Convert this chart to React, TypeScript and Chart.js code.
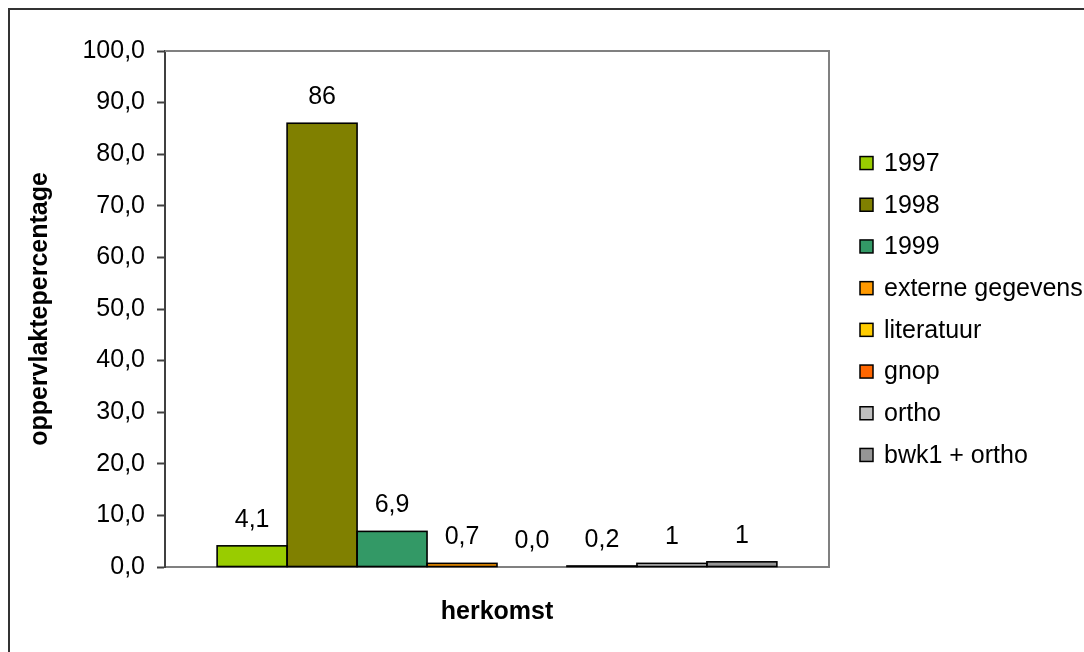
import { useEffect, useRef } from "react";
import { Chart, registerables } from "chart.js";

Chart.register(...registerables);

const categories = [""];
const seriesNames = ["1997", "1998", "1999", "externe gegevens", "literatuur", "gnop", "ortho", "bwk1 + ortho"];
const seriesValues = [4.1, 86, 6.9, 0.7, 0.0, 0.2, 0.7, 1.0];
const valueLabels = ["4,1", "86", "6,9", "0,7", "0,0", "0,2", "1", "1"];
const seriesColors = ["#99CC00", "#808000", "#339966", "#FF9900", "#FFCC00", "#FF6600", "#C0C0C0", "#969696"];
const yMin = 0;
const yMax = 100;
const yStep = 10;
const yTitle = "oppervlaktepercentage";
const xTitle = "herkomst";

const FONT = "Arial, 'Liberation Sans', sans-serif";
const FS = 25;

const decorPlugin = {
  id: "decor",
  beforeDraw(chart: any) {
    const { ctx, width, height } = chart;
    ctx.save();
    ctx.fillStyle = "#fff";
    ctx.fillRect(0, 0, width, height);
    // outer chart frame (top + left visible)
    ctx.strokeStyle = "#333";
    ctx.lineWidth = 2;
    ctx.beginPath();
    ctx.moveTo(9, height);
    ctx.lineTo(9, 9);
    ctx.lineTo(width, 9);
    ctx.stroke();
    ctx.restore();
  },
  afterDatasetsDraw(chart: any) {
    const { ctx, chartArea } = chart;
    ctx.save();
    // plot frame (top + right)
    ctx.strokeStyle = "#808080";
    ctx.lineWidth = 2;
    ctx.beginPath();
    ctx.moveTo(chartArea.left, chartArea.top);
    ctx.lineTo(chartArea.right, chartArea.top);
    ctx.lineTo(chartArea.right, chartArea.bottom);
    ctx.stroke();

    // bar outlines (centered on edges, like the original)
    ctx.strokeStyle = "#000";
    ctx.lineWidth = 1.6;
    chart.data.datasets.forEach((_ds: any, i: number) => {
      const meta = chart.getDatasetMeta(i);
      meta.data.forEach((bar: any) => {
        const { x, y, base, width } = bar.getProps(["x", "y", "base", "width"], true);
        if (Math.abs(base - y) < 0.01) return;
        ctx.strokeRect(x - width / 2, Math.min(y, base), width, Math.abs(base - y));
      });
    });

    // data labels
    ctx.font = `${FS}px ${FONT}`;
    ctx.fillStyle = "#000";
    ctx.textAlign = "center";
    ctx.textBaseline = "alphabetic";
    chart.data.datasets.forEach((_ds: any, i: number) => {
      const meta = chart.getDatasetMeta(i);
      meta.data.forEach((bar: any) => {
        ctx.fillText(valueLabels[i], bar.x, bar.y - 19);
      });
    });

    // legend
    const n = seriesNames.length;
    const spacing = 41.7;
    const cy = (chartArea.top + chartArea.bottom) / 2;
    const y0 = cy - (spacing * (n - 1)) / 2;
    const boxX = chartArea.right + 31;
    const box = 13;
    ctx.textAlign = "left";
    ctx.textBaseline = "middle";
    for (let i = 0; i < n; i++) {
      const y = y0 + i * spacing;
      ctx.fillStyle = seriesColors[i];
      ctx.fillRect(boxX, y - box / 2, box, box);
      ctx.strokeStyle = "#000";
      ctx.lineWidth = 1.5;
      ctx.strokeRect(boxX, y - box / 2, box, box);
      ctx.fillStyle = "#000";
      ctx.fillText(seriesNames[i], boxX + 24, y + 1);
    }
    ctx.restore();
  },
};

export default function App() {
  const canvasRef = useRef<HTMLCanvasElement | null>(null);

  useEffect(() => {
    document.documentElement.style.overflow = "hidden";
    document.body.style.overflow = "hidden";
    if (!canvasRef.current) return;
    const chart = new Chart(canvasRef.current, {
      type: "bar",
      data: {
        labels: categories,
        datasets: seriesNames.map((name, i) => ({
          label: name,
          data: [seriesValues[i]],
          backgroundColor: seriesColors[i],
          borderWidth: 0,
          categoryPercentage: 0.843,
          barPercentage: 1.0,
        })),
      },
      options: {
        animation: false,
        responsive: true,
        maintainAspectRatio: false,
        layout: { padding: { top: 51, right: 255, left: 0, bottom: 0 } },
        plugins: {
          legend: { display: false },
          tooltip: { enabled: false },
        },
        scales: {
          x: {
            type: "category",
            offset: true,
            grid: { display: false },
            border: { display: true, color: "#808080", width: 2 },
            ticks: { display: false },
            title: {
              display: true,
              text: xTitle,
              color: "#000",
              font: { family: FONT, size: FS, weight: "bold" },
              padding: { top: 0, bottom: 25 },
            },
            afterFit: (scale: any) => {
              scale.height = 85;
            },
          },
          y: {
            min: yMin,
            max: yMax,
            ticks: {
              stepSize: yStep,
              color: "#000",
              padding: 12,
              font: { family: FONT, size: FS },
              callback: (v: any) => Number(v).toFixed(1).replace(".", ","),
            },
            grid: {
              display: true,
              drawOnChartArea: false,
              drawTicks: true,
              tickLength: 8,
              tickColor: "#404040",
              tickWidth: 2,
            },
            border: { display: true, color: "#404040", width: 2 },
            title: {
              display: true,
              text: yTitle,
              color: "#000",
              font: { family: FONT, size: FS, weight: "bold" },
              padding: { top: 25, bottom: 0 },
            },
            afterFit: (scale: any) => {
              scale.width = 165;
            },
          },
        },
      },
      plugins: [decorPlugin],
    });
    return () => chart.destroy();
  }, []);

  return (
    <div
      style={{
        position: "fixed",
        left: 0,
        top: 0,
        width: 1084,
        height: 652,
      }}
    >
      <canvas ref={canvasRef} />
    </div>
  );
}
